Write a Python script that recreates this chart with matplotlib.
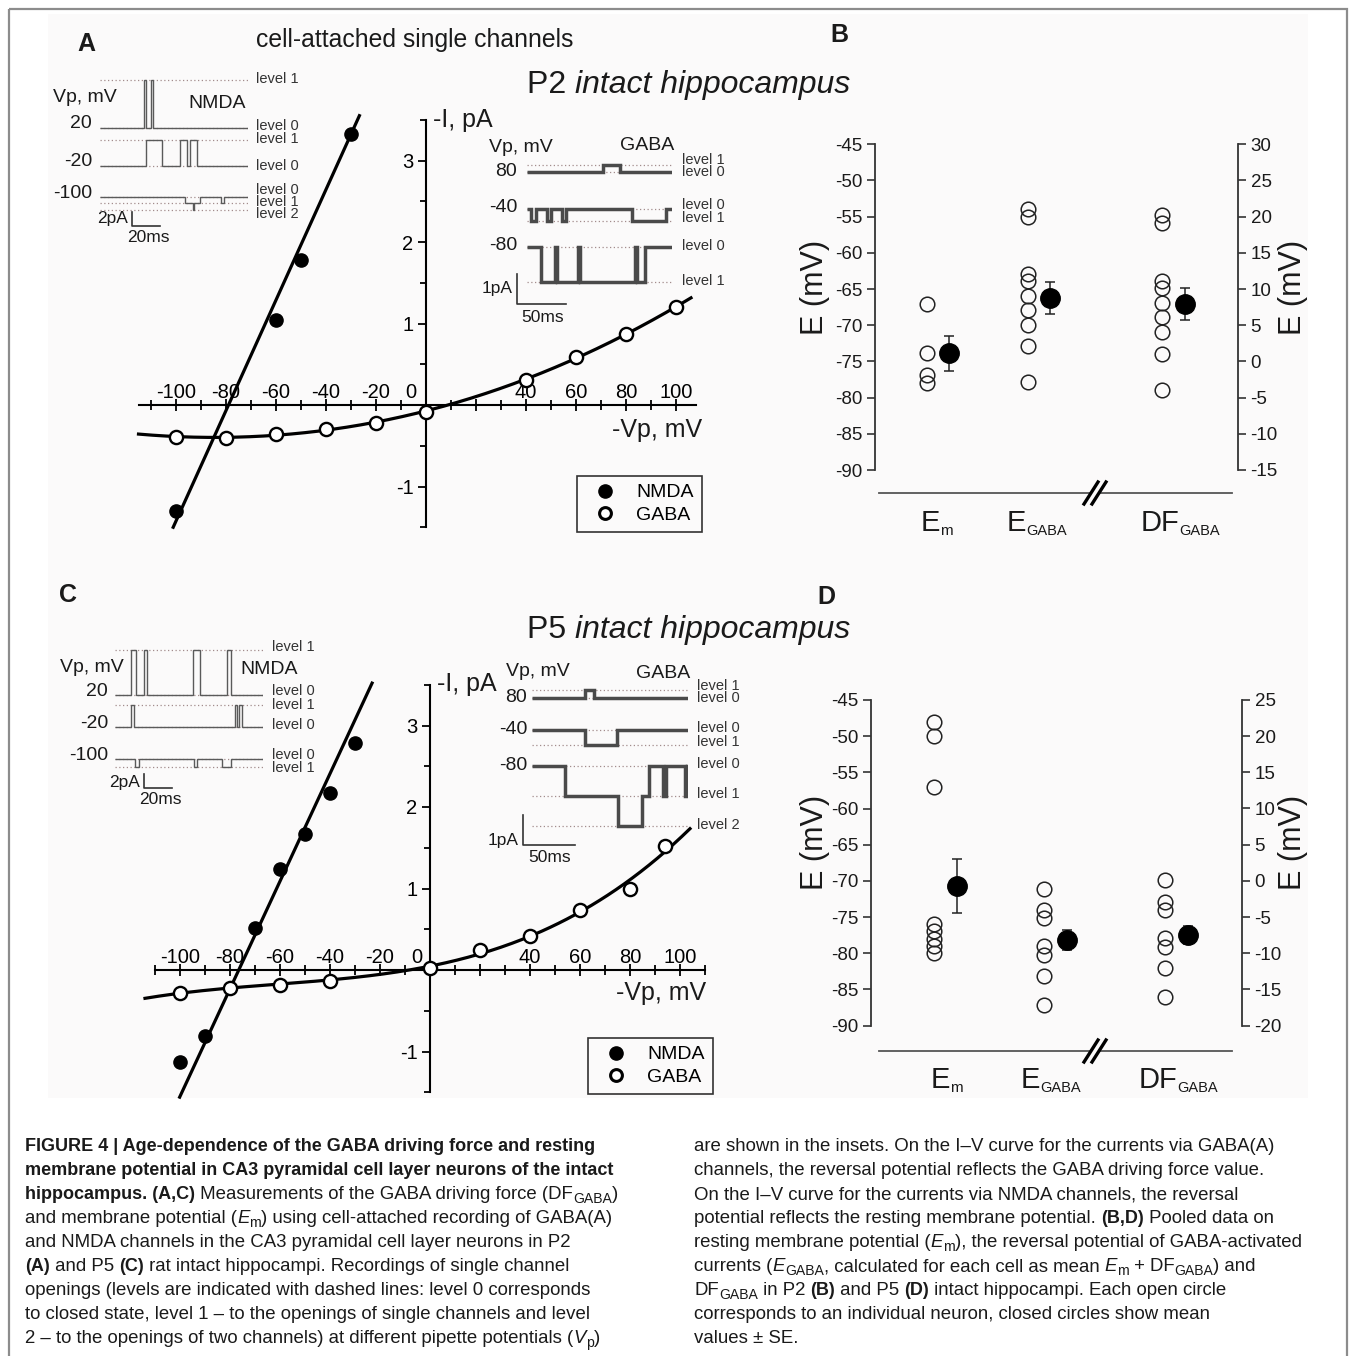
import matplotlib
matplotlib.use("Agg")
from matplotlib import pyplot as plt
from matplotlib import ticker as tick
from matplotlib.lines import Line2D
from matplotlib.patches import Rectangle
import numpy as np

plt.rcParams['font.family'] = ['Liberation Sans', 'DejaVu Sans']
plt.rcParams['axes.unicode_minus'] = False

# ---------------- data ----------------
# I-V relations (-Vp in mV, -I in pA)
vp_nmda_p2 = [-100, -60, -50, -30]
i_nmda_p2 = [-1.30, 1.04, 1.78, 3.33]
vp_gaba_p2 = [-100, -80, -60, -40, -20, 0, 40, 60, 80, 100]
i_gaba_p2 = [-0.39, -0.40, -0.36, -0.30, -0.22, -0.08, 0.31, 0.59, 0.87, 1.20]
nmda_fit_p2 = (0.0678, -79.0)   # slope (pA/mV), reversal (mV)

vp_nmda_p5 = [-100, -90, -70, -60, -50, -40, -30]
i_nmda_p5 = [-1.13, -0.81, 0.52, 1.24, 1.67, 2.17, 2.79]
vp_gaba_p5 = [-100, -80, -60, -40, 0, 20, 40, 60, 80, 94]
i_gaba_p5 = [-0.28, -0.22, -0.18, -0.13, 0.03, 0.24, 0.42, 0.74, 0.99, 1.52]
nmda_fit_p5 = (0.066, -76.5)

iv_xticks = [-100, -80, -60, -40, -20, 0, 20, 40, 60, 80, 100]
iv_xlabels = ['-100', '-80', '-60', '-40', '-20', '', '', '40', '60', '80', '100']

# pooled data (mV); DF values are read on the right axis
em_p2 = [-67.0, -73.9, -76.9, -78.0]
egaba_p2 = [-54.0, -55.0, -62.9, -63.9, -65.9, -67.9, -69.9, -72.9, -77.9]
df_p2 = [20.2, 19.1, 11.1, 10.1, 8.1, 6.1, 4.1, 1.0, -3.9]
mean_p2 = [-73.9, -66.2, 7.9]
se_p2 = [2.45, 2.2, 2.2]

em_p5 = [-48.0, -50.0, -57.0, -76.0, -77.0, -78.0, -79.0, -80.0]
egaba_p5 = [-71.1, -74.1, -75.2, -79.0, -80.2, -83.1, -87.1]
df_p5 = [0.1, -2.9, -4.1, -7.9, -9.1, -12.0, -16.1]
mean_p5 = [-70.7, -78.2, -7.5]
se_p5 = [3.7, 1.4, 1.25]

# single channel traces: (Vp label, level amplitudes pA, [(t ms, level index)])
nmda_p2_traces = [
    ("20", [0, 6.9], [(0, 0), (31.4, 1), (32.9, 0), (36.4, 1), (37.9, 0)]),
    ("-20", [0, 3.7], [(0, 0), (33.0, 1), (44.3, 0), (57.1, 1), (62.1, 0), (64.3, 1), (69.3, 0)]),
    ("-100", [0, -0.8, -1.8], [(0, 0), (60.7, 1), (66.4, 2), (67.1, 1), (71.4, 0), (86.4, 1), (88.6, 0)]),
]
gaba_p2_traces = [
    ("80", [0, 0.23], [(0, 0), (77.6, 1), (94.9, 0)]),
    ("-40", [0, -0.4], [(0, 0), (4.1, 1), (9.2, 0), (20.4, 1), (24.5, 0), (35.7, 1), (39.8, 0), (107.1, 1), (141.8, 0)]),
    ("-80", [0, -1.17], [(0, 0), (14.6, 1), (28.6, 0), (30.6, 1), (51.7, 0), (53.7, 1), (110.0, 0), (112.0, 1), (120.0, 0)]),
]
nmda_p5_traces = [
    ("20", [0, 6.4], [(0, 0), (11.4, 1), (15.0, 0), (20.7, 1), (22.9, 0), (55.7, 1), (60.7, 0), (80.0, 1), (82.9, 0)]),
    ("-20", [0, 3.1], [(0, 0), (11.4, 1), (13.6, 0), (85.7, 1), (87.1, 0), (88.6, 1), (90.7, 0)]),
    ("-100", [0, -1.1], [(0, 0), (14.3, 1), (17.1, 0), (56.4, 1), (58.6, 0), (76.4, 1), (82.9, 0)]),
]
gaba_p5_traces = [
    ("80", [0, 0.27], [(0, 0), (51.0, 1), (59.6, 0)]),
    ("-40", [0, -0.5], [(0, 0), (51.0, 1), (81.7, 0)]),
    ("-80", [0, -1.0, -2.0], [(0, 0), (31.7, 1), (82.7, 2), (105.8, 1), (112.5, 0), (126.0, 1), (128.8, 0), (147.1, 1), (149.0, 0)]),
]

# ---------------- figure ----------------
W, H = 1352, 1356
fig = plt.figure(figsize=(W / 100, H / 100), dpi=100)
fig.patch.set_facecolor('white')


def box(x0, y0, x1, y1, **kw):
    return fig.add_axes([x0 / W, 1 - y1 / H, (x1 - x0) / W, (y1 - y0) / H], **kw)


bg = box(0, 0, W, H, zorder=0)
bg.set_xlim(0, W)
bg.set_ylim(H, 0)
bg.axis('off')
bg.add_patch(Rectangle((48, 14), 1260, 1084, color='#fbfafa', lw=0))
bg.add_patch(Rectangle((9, 9), 1338, 1400, fill=False, ec='#8c8c8c', lw=1.6, clip_on=False))

INK = '#1a1a1a'


def txt(x, y, s, size, ha='left', va='center', **kw):
    kw.setdefault('color', INK)
    return bg.text(x, y, s, fontsize=size, ha=ha, va=va, **kw)


renderer = fig.canvas.get_renderer()


def rich(x, y, runs, size, sub_size=None, sub_dy=4, bold_scale=1.0):
    # runs of (text, style): 'b' bold, 'i' italic, 's' subscript
    sub_size = sub_size or size * 0.75
    for s, st in runs:
        fs = sub_size if 's' in st else size
        if 'b' in st:
            fs *= bold_scale
        t = bg.text(x, y + (sub_dy if 's' in st else 0), s, color=INK, fontsize=fs,
                    fontweight='bold' if 'b' in st else 'normal',
                    fontstyle='italic' if 'i' in st else 'normal',
                    ha='left', va='baseline')
        x += t.get_window_extent(renderer=renderer).width


# ---------- I-V panels ----------
def iv_panel(rect, xlim, vpn, inn, fit, n_span, vpg, ig, g_span, leg_xy, zero_dx):
    ax = box(*rect, zorder=2)
    ax.patch.set_alpha(0)
    ax.set_xlim(*xlim)
    ax.set_ylim(-1.5, 3.5)
    ax.spines['bottom'].set_visible(False)
    ax.spines['right'].set_visible(False)
    ax.spines['top'].set_position(('data', 0))
    ax.spines['left'].set_position(('data', 0))
    for s in ['top', 'left']:
        ax.spines[s].set_linewidth(1.5)
    ax.xaxis.set_ticks_position('top')
    ax.set_xticks(iv_xticks)
    ax.set_xticklabels(iv_xlabels)
    ax.xaxis.set_minor_locator(tick.MultipleLocator(10))
    ax.set_yticks([-1, 1, 2, 3])
    ax.yaxis.set_minor_locator(tick.MultipleLocator(0.5))
    ax.tick_params(axis='x', which='major', direction='inout', length=9, width=1.3, labelsize=14.5, pad=-2.5)
    ax.tick_params(axis='x', which='minor', direction='inout', length=7, width=1.3)
    ax.tick_params(axis='y', which='major', direction='out', length=6, width=1.3, labelsize=14.5, pad=3)
    ax.tick_params(axis='y', which='minor', direction='out', length=4, width=1.3)
    ax.annotate('0', xy=(0, 0), xytext=(zero_dx, 3), textcoords='offset pixels',
                ha='center', va='bottom', fontsize=14.5)

    i_line = np.array(n_span)
    ax.plot(fit[1] + i_line / fit[0], i_line, color='k', lw=2.3, clip_on=False, zorder=3)
    coef = np.polyfit(vpg, ig, 3)
    v = np.linspace(g_span[0], g_span[1], 200)
    ax.plot(v, np.polyval(coef, v), color='k', lw=2.3, clip_on=False, zorder=3)
    ax.plot(vpn, inn, 'o', ms=9.5, color='k', clip_on=False, zorder=4)
    ax.plot(vpg, ig, 'o', ms=9.5, mfc='white', mec='k', mew=1.7, clip_on=False, zorder=4)

    handles = [Line2D([], [], ls='none', marker='o', ms=9.5, color='k'),
               Line2D([], [], ls='none', marker='o', ms=8.5, mfc='white', mec='k', mew=2.2)]
    leg = ax.legend(handles, ['NMDA', 'GABA'], loc='upper left',
                    bbox_to_anchor=(leg_xy[0] / W, 1 - leg_xy[1] / H), bbox_transform=fig.transFigure,
                    fancybox=False, edgecolor='k', facecolor='none', fontsize=14, borderpad=0.4,
                    labelspacing=0.25, handlelength=2.1, handletextpad=0.55, borderaxespad=0)
    leg.get_frame().set_linewidth(1.2)
    return ax


iv_panel((138.5, 119.75, 696, 527.25), (-115, 108), vp_nmda_p2, i_nmda_p2, nmda_fit_p2, (-1.5, 3.55),
         vp_gaba_p2, i_gaba_p2, (-115, 106), (577, 476), -15)
iv_panel((155, 684.75, 705, 1092.25), (-110, 110), vp_nmda_p5, i_nmda_p5, nmda_fit_p5, (-1.56, 3.52),
         vp_gaba_p5, i_gaba_p5, (-114, 104), (588, 1038), -13)


# ---------- single channel insets ----------
def trace_inset(x0, x1, y_top, y_bot, y_ref, sx, sy, traces, rows_y, label_dxy, bar, lw, color):
    ax = box(x0, y_top, x1, y_bot, zorder=2)
    ax.axis('off')
    T = (x1 - x0) / sx
    ax.set_xlim(0, T)
    ax.set_ylim((y_ref - y_bot) / sy, (y_ref - y_top) / sy)
    for (vp, amps, steps), yr in zip(traces, rows_y):
        base = (y_ref - yr) / sy
        for a in amps:
            ax.plot([0, T], [base + a] * 2, ls=(0, (1, 2)), color='#a38c8c', lw=0.9)
        edges = [s[0] for s in steps] + [T]
        levels = [base + amps[s[1]] for s in steps]
        ax.stairs(levels, edges, baseline=None, color=color, lw=lw, zorder=3)
        ax.annotate(vp, xy=(0, base), xytext=label_dxy, textcoords='offset pixels',
                    ha='right', va='center', fontsize=14, color=INK)
    t0, ms, pa = bar
    ax.plot([t0, t0, t0 + ms], [pa, 0, 0], color='#333333', lw=1.2, clip_on=False)
    return ax


trace_inset(100, 248, 70, 232, 226, 1.4, 7, nmda_p2_traces, [128, 166, 197], (-8, 4),
            (22.9, 20, 2), 1.0, '#5a5a5a')
trace_inset(527, 672, 150, 310, 304, 0.98, 30, gaba_p2_traces, [172, 208.5, 246.7], (-10, 1),
            (-10.2, 50, 1), 2.5, '#4a4a4a')
trace_inset(115, 263, 640, 795, 788, 1.4, 7, nmda_p5_traces, [695, 727, 759], (-7, 4),
            (20.7, 20, 2), 1.0, '#5a5a5a')
trace_inset(532, 688, 680, 850, 845, 1.04, 30, gaba_p5_traces, [698, 730, 766], (-5, 1),
            (-8.65, 50, 1), 2.5, '#4a4a4a')

# inset texts
level_labels = [
    (256, [(79, 'level 1'), (126, 'level 0'), (139, 'level 1'), (166, 'level 0'),
           (190, 'level 0'), (202, 'level 1'), (214, 'level 2')]),
    (682, [(160, 'level 1'), (172, 'level 0'), (205, 'level 0'), (218, 'level 1'),
           (246, 'level 0'), (281, 'level 1')]),
    (272, [(647, 'level 1'), (691, 'level 0'), (705, 'level 1'), (725, 'level 0'),
           (755, 'level 0'), (768, 'level 1')]),
    (697, [(686, 'level 1'), (698, 'level 0'), (728, 'level 0'), (742, 'level 1'),
           (764, 'level 0'), (794, 'level 1'), (825, 'level 2')]),
]
for x, labs in level_labels:
    for y, s in labs:
        txt(x, y, s, 10.5, color='#333333')

txt(53, 97, 'Vp, mV', 14)
txt(188, 104, 'NMDA', 14)
txt(128, 219, '2pA', 12.5, ha='right')
txt(148, 238, '20ms', 12.5, ha='center')
txt(489, 148, 'Vp, mV', 14)
txt(620, 146, 'GABA', 14)
txt(513, 289, '1pA', 12.5, ha='right')
txt(543, 317, '50ms', 12.5, ha='center')

txt(60, 667, 'Vp, mV', 14)
txt(240, 669, 'NMDA', 14)
txt(140, 782, '2pA', 12.5, ha='right')
txt(160, 800, '20ms', 12.5, ha='center')
txt(506, 671, 'Vp, mV', 14)
txt(636, 673, 'GABA', 14)
txt(519, 841, '1pA', 12.5, ha='right')
txt(550, 858, '50ms', 12.5, ha='center')

txt(433, 120, '-I, pA', 18)
txt(702, 430, '-Vp, mV', 18, ha='right')
txt(437, 684, '-I, pA', 18)
txt(706, 993, '-Vp, mV', 18, ha='right')

# titles and panel letters
txt(86, 44, 'A', 18, ha='center', fontweight='bold')
txt(839, 35, 'B', 18, ha='center', fontweight='bold')
txt(68, 595, 'C', 18, ha='center', fontweight='bold')
txt(826, 597, 'D', 18, ha='center', fontweight='bold')
txt(256, 40, 'cell-attached single channels', 17.8)
for y, age in [(82, 'P2'), (627, 'P5')]:
    rich(527, y + 11, [(age + ' ', ''), ('intact hippocampus', 'i')], 23)


# ---------- pooled panels ----------
def pooled_panel(rect, xlim, ylim_r, pos, off, em, eg, df, means, ses):
    ax = box(*rect, zorder=2)
    ax.patch.set_alpha(0)
    ax.set_xlim(*xlim)
    ax.set_ylim(-90, -45)
    axr = ax.twinx()
    axr.set_ylim(*ylim_r)
    for a in (ax, axr):
        for s in ['top', 'bottom', 'left', 'right']:
            a.spines[s].set_visible(False)
        a.set_xticks([])
    ax.spines['left'].set_visible(True)
    axr.spines['right'].set_visible(True)
    ax.spines['left'].set_linewidth(1.3)
    axr.spines['right'].set_linewidth(1.3)
    ax.spines['left'].set_color('#333333')
    axr.spines['right'].set_color('#333333')
    ax.set_yticks(np.arange(-90, -44, 5))
    axr.set_yticks(np.arange(ylim_r[0], ylim_r[1] + 1, 5))
    for a in (ax, axr):
        a.tick_params(axis='y', direction='out', length=6, width=1.2, labelsize=13.5, pad=3,
                      color='#333333', labelcolor=INK)
    open_kw = dict(ls='none', marker='o', ms=10.5, mfc='none', mec='#222222', mew=1.1, clip_on=False)
    ax.plot([pos[0]] * len(em), em, **open_kw)
    ax.plot([pos[1]] * len(eg), eg, **open_kw)
    axr.plot([pos[2]] * len(df), df, **open_kw)
    mean_kw = dict(fmt='o', ms=14, color='k', ecolor='#222222', elinewidth=1.1, capsize=3.5, capthick=1.1)
    ax.errorbar(pos[0] + off, means[0], yerr=ses[0], **mean_kw)
    ax.errorbar(pos[1] + off, means[1], yerr=ses[1], **mean_kw)
    axr.errorbar(pos[2] + off, means[2], yerr=ses[2], **mean_kw)
    return ax


pooled_panel((875, 144.3, 1238, 470), (-0.51, 3.084), (-15, 30), [0, 1, 2.33], 0.225,
             em_p2, egaba_p2, df_p2, mean_p2, se_p2)
pooled_panel((871, 700, 1242, 1025.5), (-0.573, 2.8), (-20, 25), [0, 1.0, 2.1], 0.21,
             em_p5, egaba_p5, df_p5, mean_p5, se_p5)

for cy in (287, 842):
    txt(815, cy, 'E (mV)', 22, ha='center', rotation=90)
    txt(1293, cy, 'E (mV)', 22, ha='center', rotation=90)

# category axis lines with break marks
for yb in (493, 1051):
    bg.plot([879, 1089], [yb, yb], color='#555555', lw=1.3)
    bg.plot([1101, 1232], [yb, yb], color='#555555', lw=1.3)
    for dx in (0, 8):
        bg.plot([1084 + dx, 1098 + dx], [yb + 11, yb - 11], color='k', lw=2.4)

for x_em, x_eg, x_df, yb in [(921, 1007, 1141, 531), (931, 1021, 1139, 1088)]:
    rich(x_em, yb, [('E', ''), ('m', 's')], 21, sub_size=11, sub_dy=4)
    rich(x_eg, yb, [('E', ''), ('GABA', 's')], 21, sub_size=10.5, sub_dy=4)
    rich(x_df, yb, [('DF', ''), ('GABA', 's')], 21, sub_size=10.5, sub_dy=4)

# ---------- caption ----------
left_lines = [
    [("FIGURE 4 | Age-dependence of the GABA driving force and resting", 'b')],
    [("membrane potential in CA3 pyramidal cell layer neurons of the intact", 'b')],
    [("hippocampus. (A,C)", 'b'), (" Measurements of the GABA driving force (DF", ''), ("GABA", 's'), (")", '')],
    [("and membrane potential (", ''), ("E", 'i'), ("m", 's'), (") using cell-attached recording of GABA(A)", '')],
    [("and NMDA channels in the CA3 pyramidal cell layer neurons in P2", '')],
    [("(A)", 'b'), (" and P5 ", ''), ("(C)", 'b'), (" rat intact hippocampi. Recordings of single channel", '')],
    [("openings (levels are indicated with dashed lines: level 0 corresponds", '')],
    [("to closed state, level 1 \u2013 to the openings of single channels and level", '')],
    [("2 \u2013 to the openings of two channels) at different pipette potentials (", ''), ("V", 'i'), ("p", 's'), (")", '')],
]
right_lines = [
    [("are shown in the insets. On the I\u2013V curve for the currents via GABA(A)", '')],
    [("channels, the reversal potential reflects the GABA driving force value.", '')],
    [("On the I\u2013V curve for the currents via NMDA channels, the reversal", '')],
    [("potential reflects the resting membrane potential. ", ''), ("(B,D)", 'b'), (" Pooled data on", '')],
    [("resting membrane potential (", ''), ("E", 'i'), ("m", 's'), ("), the reversal potential of GABA-activated", '')],
    [("currents (", ''), ("E", 'i'), ("GABA", 's'), (", calculated for each cell as mean ", ''), ("E", 'i'),
     ("m", 's'), (" + DF", ''), ("GABA", 's'), (") and", '')],
    [("DF", ''), ("GABA", 's'), (" in P2 ", ''), ("(B)", 'b'), (" and P5 ", ''), ("(D)", 'b'),
     (" intact hippocampi. Each open circle", '')],
    [("corresponds to an individual neuron, closed circles show mean", '')],
    [("values \u00b1 SE.", '')],
]
for i, runs in enumerate(left_lines):
    rich(25, 1151 + 24 * i, runs, 13.4, bold_scale=0.965)
for i, runs in enumerate(right_lines):
    rich(694, 1151 + 24 * i, runs, 13.4, bold_scale=0.965)

fig.savefig('out.png', dpi=100)
